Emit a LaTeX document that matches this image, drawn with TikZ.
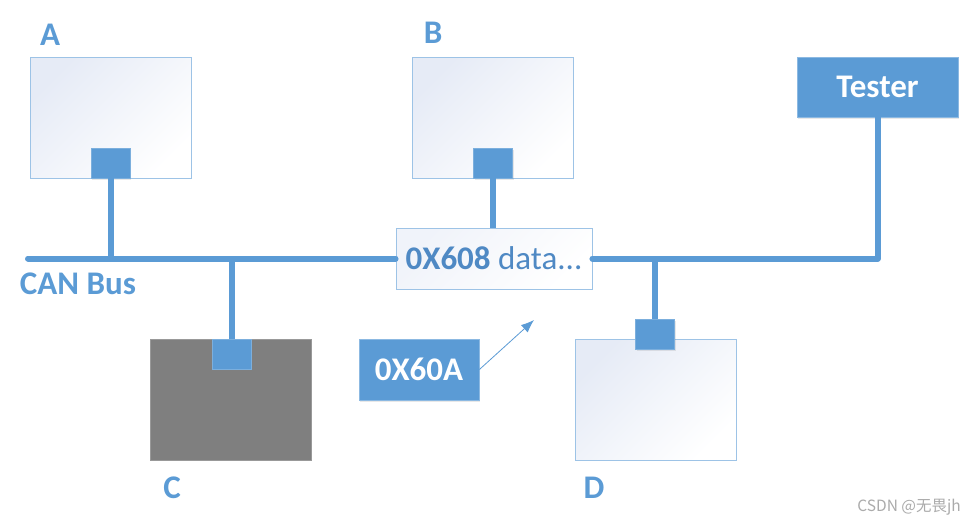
\documentclass[tikz,border=0pt]{standalone}
\usepackage{fontspec}
\setmainfont{Carlito}
\newfontfamily\cjk{Noto Sans CJK SC}
\usetikzlibrary{arrows.meta,shadows}
\definecolor{cblue}{HTML}{5B9BD5}
\definecolor{dblue}{HTML}{4F89C4}
\definecolor{bord}{HTML}{9DC3E6}
\definecolor{shadeA}{HTML}{E6EBF6}
\definecolor{cgray}{HTML}{7F7F7F}
\definecolor{wmark}{HTML}{ABABAB}
\begin{document}
\begin{tikzpicture}[x=1pt,y=-1pt,
  lbl/.style={font=\fontsize{33}{37}\selectfont\bfseries, text=cblue, inner sep=0pt},
  ecu/.style={draw=bord, line width=0.9pt, top color=shadeA, bottom color=white, shading angle=45,
    minimum width=161pt, minimum height=121pt, inner sep=0pt, anchor=north west},
  grayecu/.style={draw=cgray!80!white, line width=0.9pt, fill=cgray,
    minimum width=161pt, minimum height=121pt, inner sep=0pt, anchor=north west},
  port/.style={fill=cblue, draw=cblue!80!white, line width=0.6pt, minimum width=39pt, minimum height=30pt, inner sep=0pt,
    drop shadow={opacity=0.18, shadow xshift=1pt, shadow yshift=-1.5pt}},
  bluebox/.style={fill=cblue, draw=cblue!70!white, line width=0.8pt, text=white, inner sep=0pt,
    font=\fontsize{33}{37}\selectfont\bfseries,
    drop shadow={opacity=0.18, shadow xshift=1pt, shadow yshift=-1.5pt}},
  databox/.style={draw=bord, line width=0.9pt, top color=shadeA!60!white, bottom color=white, shading angle=45,
    minimum width=196pt, minimum height=61pt, inner sep=0pt, text=dblue, font=\fontsize{33}{37}\selectfont},
  bus/.style={draw=cblue, line width=6pt},
  msgarrow/.style={draw=cblue, line width=0.8pt, -{Latex[length=13pt,width=10pt]}}
]
\useasboundingbox (0,0) rectangle (965,524);
\fill[white] (0,0) rectangle (965,524);

% ECU boxes
\node[ecu] (boxA) at (30,57) {};
\node[ecu] (boxB) at (412,57) {};
\node[grayecu] (boxC) at (150,339) {};
\node[ecu] (boxD) at (575,339) {};

% ports
\node[port] (portA) at (110.5,163) {};
\node[port] (portB) at (493,163) {};
\node[port] (portC) at (231.5,354.5) {};
\node[port] (portD) at (655,334) {};

% labels
\node[lbl] (lA) at (50,35) {A};
\node[lbl] (lB) at (433,33) {B};
\node[lbl] (lC) at (172,488) {C};
\node[lbl] (lD) at (594,488) {D};
\node[lbl] (lbus) at (78,284) {CAN Bus};

% tester and message boxes
\node[bluebox, minimum width=161pt, minimum height=60pt] (tester) at (877.5,87) {Tester};
\node[bluebox, minimum width=120pt, minimum height=61pt] (msg) at (419,369.5) {0X60A};
\node[databox] (data) at (494,258.5) {\textbf{0X608} data...};

% bus
\coordinate (busL) at (28,258.5);
\coordinate (busR) at (877.5,258.5);
\draw[bus, line cap=round] (busL) -- (data.west);
\draw[bus, line join=round, line cap=round] (data.east) -- (busR) -- (tester.south);

% stubs
\draw[bus] (portA.south) -- (portA.south |- busL);
\draw[bus] (portB.south) -- (portB.south |- data.north);
\draw[bus] (portC.north) -- (portC.north |- busL);
\draw[bus] (portD.north) -- (portD.north |- busL);

% message arrow
\coordinate (arrTip) at (534,320);
\draw[msgarrow] (msg.east) -- (arrTip);

% watermark
\node[anchor=east, inner sep=0pt, text=wmark, font=\cjk\fontsize{15.5}{18}\selectfont] (wm) at (961,507) {CSDN @无畏jh};
\end{tikzpicture}
\end{document}
